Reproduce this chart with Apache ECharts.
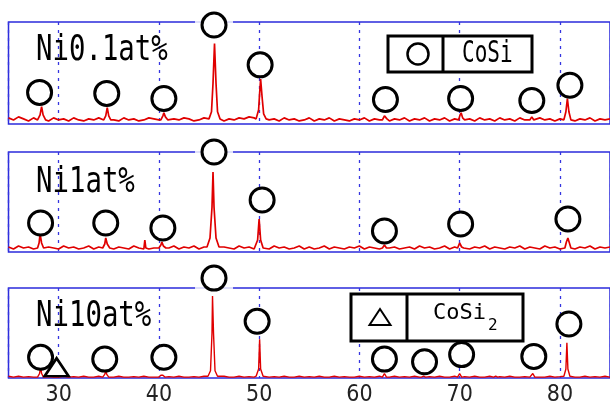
<!DOCTYPE html>
<html>
<head>
<meta charset="UTF-8">
<title>XRD</title>
<script src="https://cdn.jsdelivr.net/npm/echarts@6/dist/echarts.min.js"></script>
</head>
<body style="margin:0;background:#fff">
<div id="charts" style="width:610px;height:408px"></div>
<script type="text/javascript">
// baseline readings, one value every 0.5 deg from 25 to 85
var xStart=25, xStep=0.5;
var base1=[6,4,7,5,3,6,4,5,3,6, 4,5,3,6,4,3,5,4,6,3, 5,4,3,6,4,5,3,4,6,5, 4,6,3,5,4,6,5,3,4,6,
	5,4,6,3,5,4,6,5,7,6, 5,6,4,5,3,6,4,5,3,4, 6,3,5,4,6,3,5,4,3,5, 4,6,3,5,4,6,3,5,4,6,
	3,5,4,6,3,5,4,6,3,5, 6,4,5,3,6,4,5,3,6,4, 5,3,6,4,5,3,6,4,5,3, 5,4,6,3,5,4,6,3,5,4, 5];
var base2=[5,3,6,4,5,3,6,4,5,4, 3,6,4,5,3,4,6,3,5,4, 6,3,5,4,3,6,4,5,3,4, 5,3,4,6,3,5,4,6,3,5,
	4,6,3,5,4,3,6,4,5,3, 5,4,3,6,4,5,3,4,6,3, 5,3,4,6,3,5,4,3,5,4, 6,3,5,4,3,6,4,5,3,4,
	5,3,6,4,5,3,4,6,3,5, 4,6,3,5,4,6,3,5,4,3, 5,4,6,3,5,4,3,6,4,5, 3,4,6,3,5,4,6,3,5,4, 5];
var base3=[2,1,2,1,1.5,1,2,1,1.5,1, 1,2,1,1.5,1,2,1,1,2,1, 1.5,1,2,1,1,1.5,1,2,1,1, 2,1,1.5,1,2,1,1,1.5,1,2,
	1,1.5,1,2,1,1,2,1,1.5,1, 2,1,1,1.5,1,2,1,1,2,1, 1.5,1,2,1,1,2,1,1.5,1,1, 2,1,1.5,1,2,1,1,2,1,1.5,
	1,2,1,1,1.5,1,2,1,1,2, 1,1.5,1,2,1,1,2,1,1.5,1, 2,1,1,1.5,1,2,1,1,2,1, 1.5,1,2,1,1,2,1,1.5,1,2, 1];

// peak profiles [2theta, height]
var peaks1=[
	[[27.9,4],[28.15,9],[28.3,17],[28.45,9],[28.7,4]],
	[[34.5,4],[34.7,8],[34.85,16],[35.0,8],[35.2,4]],
	[[40.2,4],[40.4,8],[40.5,11],[40.65,7],[40.9,4]],
	[[45.0,5],[45.25,12],[45.4,40],[45.55,79],[45.7,40],[45.85,12],[46.1,5]],
	[[49.7,5],[49.95,14],[50.05,30],[50.15,44],[50.3,26],[50.45,10],[50.7,5]],
	[[62.3,4],[62.5,8],[62.6,9],[62.75,5]],
	[[69.9,4],[70.05,9],[70.15,11],[70.3,6],[70.5,4]],
	[[77.0,4],[77.2,7],[77.4,4]],
	[[80.4,4],[80.6,12],[80.75,25],[80.9,12],[81.1,4]]
];
var peaks2=[
	[[27.9,4],[28.05,9],[28.15,18],[28.3,9],[28.5,4]],
	[[34.4,4],[34.6,8],[34.7,14],[34.85,8],[35.1,4]],
	[[38.5,3],[38.6,12],[38.7,4]],
	[[40.0,4],[40.2,7],[40.3,10],[40.45,6],[40.7,4]],
	[[44.8,5],[45.1,14],[45.3,45],[45.4,80],[45.5,45],[45.7,14],[46.0,5]],
	[[49.6,4],[49.85,12],[50.0,33],[50.15,12],[50.4,4]],
	[[62.3,4],[62.5,7],[62.7,4]],
	[[69.8,4],[70.0,9],[70.2,5],[70.4,4]],
	[[80.5,4],[80.65,10],[80.8,14],[80.95,9],[81.1,4]]
];
var peaks3=[
	[[27.9,1],[28.1,5],[28.2,13],[28.3,5],[28.5,1]],
	[[34.4,1],[34.6,4],[34.7,8],[34.8,4],[35.0,1]],
	[[40.0,1],[40.2,3],[40.4,3],[40.6,1]],
	[[44.9,2],[45.15,8],[45.3,50],[45.35,91],[45.45,50],[45.6,8],[45.85,2]],
	[[49.7,2],[49.95,10],[50.05,43],[50.15,10],[50.4,2]],
	[[62.3,1],[62.5,5],[62.7,1]],
	[[66.2,1],[66.4,2],[66.6,1]],
	[[69.8,1],[70.0,5],[70.2,1]],
	[[73.4,1],[73.6,2],[73.8,1]],
	[[77.1,1],[77.3,5],[77.5,1]],
	[[80.4,2],[80.6,10],[80.7,39],[80.8,10],[81.0,2]]
];

// CoSi markers (circles) and CoSi2 marker (triangle)
var circles1=[[28.1,31],[34.8,30],[40.5,25],[45.5,97],[50.1,58],[62.6,24],[70.1,25],[77.2,23],[81.0,38]];
var circles2=[[28.2,29],[34.7,29],[40.4,24],[45.5,100],[50.3,52],[62.5,21],[70.1,28],[80.8,33]];
var circles3=[[28.2,23],[34.6,21],[40.5,23],[45.5,111],[49.8,63],[62.5,21],[66.5,18],[70.2,26],[77.4,24],[80.9,60]];
var triangles3=[[29.8,12]];

var panelNames=['Ni0.1at%','Ni1at%','Ni10at%'];
var legendNames=['CoSi','CoSi','2'];

function buildLine(base,peaks){
	var pts=[];
	for(var i=0;i<base.length;i++){
		var x=xStart+i*xStep;
		var inside=false;
		for(var j=0;j<peaks.length;j++){
			var p=peaks[j];
			if(x>=p[0][0]&&x<=p[p.length-1][0]) inside=true;
		}
		if(!inside) pts.push([x,base[i]]);
	}
	peaks.forEach(function(p){p.forEach(function(q){pts.push(q);});});
	pts.sort(function(a,b){return a[0]-b[0];});
	return pts;
}

var lines=[buildLine(base1,peaks1),buildLine(base2,peaks2),buildLine(base3,peaks3)];
var circles=[circles1,circles2,circles3];
var gridPos=[{top:22,height:102},{top:152,height:100},{top:288,height:90}];

var grids=[],xAxes=[],yAxes=[],series=[];
for(var k=0;k<3;k++){
	grids.push({left:8.5,top:gridPos[k].top,width:606,height:gridPos[k].height,show:true,
		borderColor:'#2b2bdc',borderWidth:1.5,backgroundColor:'transparent'});
	xAxes.push({type:'value',gridIndex:k,min:25,max:85,
		axisLine:{show:false},axisTick:{show:false},
		splitLine:{show:true,lineStyle:{color:'#3535e0',type:[3,5],width:1.3}},
		axisLabel:{show:k==2,fontSize:23,color:'#222',fontFamily:'DejaVu Sans Condensed, sans-serif',
			margin:6,showMinLabel:false,showMaxLabel:false}});
	yAxes.push({type:'value',gridIndex:k,min:0,max:100,show:false});
	series.push({type:'line',xAxisIndex:k,yAxisIndex:k,data:lines[k],showSymbol:false,
		lineStyle:{color:'#e00000',width:k==2?1.4:1.7},z:2,animation:false});
	// white gap in the top frame where a marker sits on it
	series.push({type:'scatter',xAxisIndex:k,yAxisIndex:k,clip:false,silent:true,z:3,animation:false,
		symbol:'rect',symbolSize:[38,5],itemStyle:{color:'#fff'},
		data:circles[k].filter(function(c){return c[1]>=90;}).map(function(c){return [c[0],100];})});
	series.push({type:'scatter',xAxisIndex:k,yAxisIndex:k,clip:false,z:4,animation:false,
		symbol:'circle',symbolSize:24,itemStyle:{color:'#fff',borderColor:'#000',borderWidth:3,opacity:1},
		data:circles[k]});
}
series.push({type:'scatter',xAxisIndex:2,yAxisIndex:2,clip:false,z:4,animation:false,
	symbol:'triangle',symbolSize:[24,18],itemStyle:{color:'#fff',borderColor:'#000',borderWidth:2.5,opacity:1},
	data:triangles3});

function label(txt,x,y,size,sx){
	return {type:'text',x:x,y:y,scaleX:sx,z:20,
		style:{text:txt,font:size+'px "DejaVu Sans Mono"',fill:'#000',
			textAlign:'left',textVerticalAlign:'middle',align:'left',verticalAlign:'middle'}};
}

var graphics=[
	label(panelNames[0],36,51,36,0.76),
	label(panelNames[1],36,183,36,0.76),
	label(panelNames[2],36,317,36,0.76),
	// legend CoSi
	{type:'rect',z:15,shape:{x:388,y:36,width:144,height:36},style:{fill:'#fff',stroke:'#000',lineWidth:3}},
	{type:'line',z:16,shape:{x1:443,y1:36,x2:443,y2:72},style:{stroke:'#000',lineWidth:3}},
	{type:'circle',z:16,shape:{cx:418,cy:54,r:10.5},style:{fill:'none',stroke:'#000',lineWidth:2.5}},
	label(legendNames[0],462,54,30,0.7),
	// legend CoSi2
	{type:'rect',z:15,shape:{x:351,y:294,width:172,height:47},style:{fill:'#fff',stroke:'#000',lineWidth:3}},
	{type:'line',z:16,shape:{x1:407,y1:294,x2:407,y2:341},style:{stroke:'#000',lineWidth:3}},
	{type:'polygon',z:16,shape:{points:[[369.5,325],[390.5,325],[380,309]]},style:{fill:'none',stroke:'#000',lineWidth:2}},
	label(legendNames[1],433,313,22,1),
	label(legendNames[2],488,326,16,1)
];

var mychart=echarts.init(document.getElementById('charts'));
var option={
	backgroundColor:'#fff',
	animation:false,
	grid:grids,
	xAxis:xAxes,
	yAxis:yAxes,
	series:series,
	graphic:graphics
};
mychart.setOption(option);
</script>
</body>
</html>
